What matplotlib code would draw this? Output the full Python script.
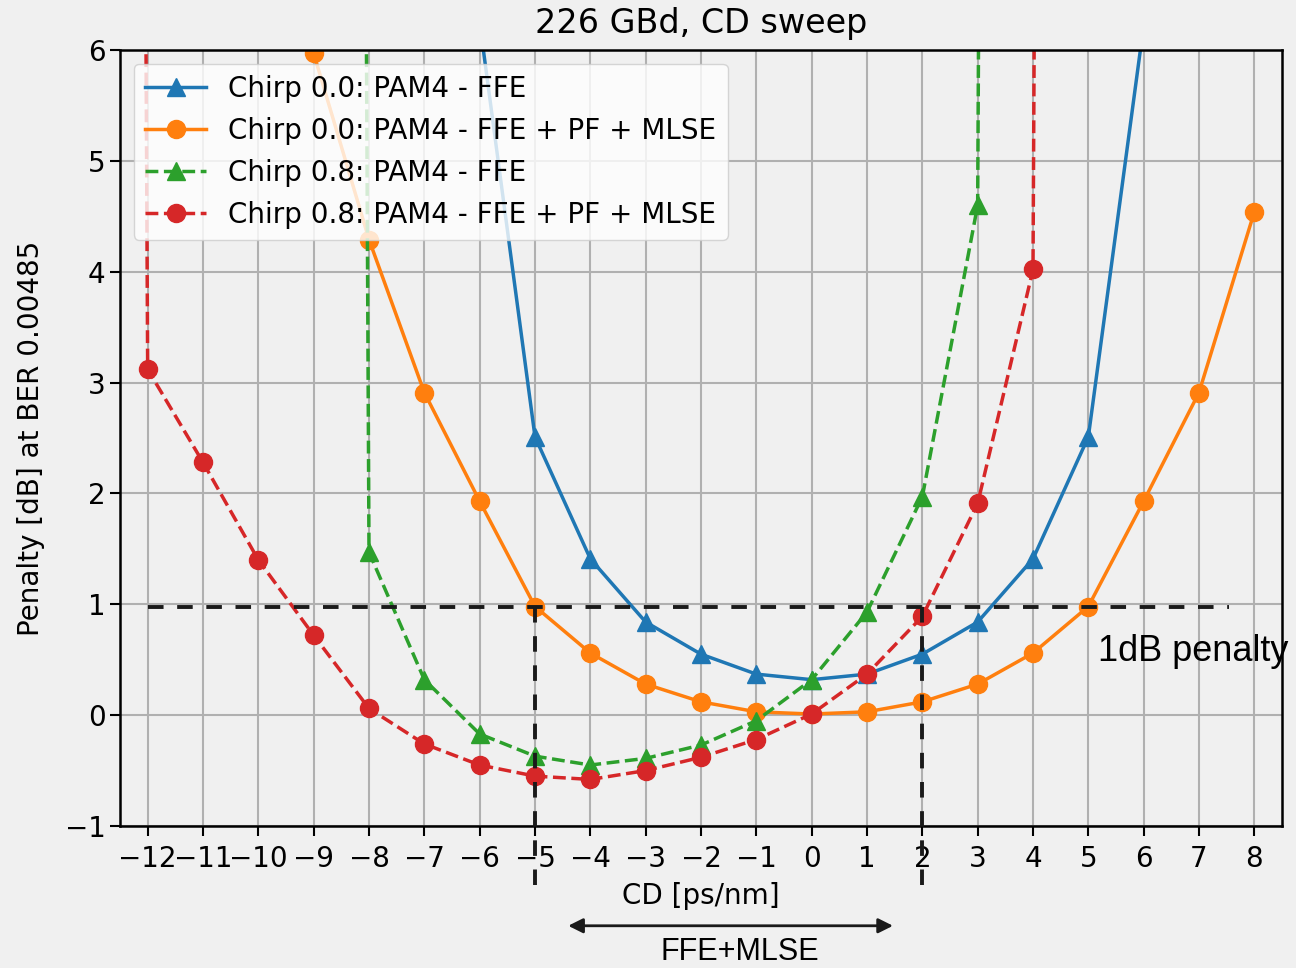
import numpy as np
import matplotlib
matplotlib.use('Agg')
import matplotlib.pyplot as plt

# CD sweep points [ps/nm]
cd_c0_ffe = [-6, -5, -4, -3, -2, -1, 0, 1, 2, 3, 4, 5, 6]
pen_c0_ffe = [6.25, 2.51, 1.41, 0.84, 0.55, 0.37, 0.32, 0.37, 0.55, 0.84, 1.41, 2.51, 6.22]

cd_c0_mlse = [-9, -8, -7, -6, -5, -4, -3, -2, -1, 0, 1, 2, 3, 4, 5, 6, 7, 8]
pen_c0_mlse = [5.97, 4.29, 2.91, 1.93, 0.98, 0.56, 0.28, 0.12, 0.03, 0.01, 0.03, 0.12, 0.28, 0.56,
               0.98, 1.93, 2.91, 4.54]

# points outside the measurable range are set to a large penalty
cd_c8_ffe = [-9, -8, -7, -6, -5, -4, -3, -2, -1, 0, 1, 2, 3, 4]
pen_c8_ffe = [100, 1.47, 0.32, -0.17, -0.37, -0.45, -0.39, -0.27, -0.05, 0.32, 0.93, 1.97, 4.60, 100]

cd_c8_mlse = [-13, -12, -11, -10, -9, -8, -7, -6, -5, -4, -3, -2, -1, 0, 1, 2, 3, 4, 5]
pen_c8_mlse = [100, 3.12, 2.28, 1.40, 0.72, 0.06, -0.26, -0.45, -0.55, -0.58, -0.50, -0.38, -0.22,
               0.01, 0.37, 0.89, 1.91, 4.02, 100]

limit_db = 0.98
range_lo, range_hi = -5, 2

fig = plt.figure(figsize=(12.96, 9.68), dpi=100, facecolor='#f0f0f0')
ax = fig.add_axes([120 / 1296, 142 / 968, 1162 / 1296, 776 / 968])
ax.set_facecolor('none')

fs = 20
lw = 2.5
ms = 13
ax.plot(cd_c0_ffe, pen_c0_ffe, '-^', color='#1f77b4', lw=lw, ms=ms, label='Chirp 0.0: PAM4 - FFE')
ax.plot(cd_c0_mlse, pen_c0_mlse, '-o', color='#ff7f0e', lw=lw, ms=ms,
        label='Chirp 0.0: PAM4 - FFE + PF + MLSE')
ax.plot(cd_c8_ffe, pen_c8_ffe, '--^', color='#2ca02c', lw=lw, ms=ms, label='Chirp 0.8: PAM4 - FFE')
ax.plot(cd_c8_mlse, pen_c8_mlse, '--o', color='#d62728', lw=lw, ms=ms,
        label='Chirp 0.8: PAM4 - FFE + PF + MLSE')

# 1 dB penalty marker lines
ax.plot([-12, 7.55], [limit_db, limit_db], '--', color='#1a1a1a', lw=2.8, dashes=(4, 3.5))
for xv in (range_lo, range_hi):
    ax.plot([xv, xv], [limit_db, -1.53], '--', color='#1a1a1a', lw=2.8, dashes=(4, 3.5),
            clip_on=False, zorder=5)

ax.text(5.18, 0.57, '1dB penalty', fontsize=26, family='Liberation Sans', va='center', ha='left')
ax.annotate('', xy=(-4.45, -1.9), xytext=(1.52, -1.9), annotation_clip=False,
            arrowprops=dict(arrowstyle='<|-|>', color='#1a1a1a', lw=2, mutation_scale=22))
ax.text(-1.3, -2.14, 'FFE+MLSE', fontsize=22, family='Liberation Sans', ha='center', va='center',
        transform=ax.transData)

ax.set_xlim(-12.5, 8.5)
ax.set_ylim(-1, 6)
ax.set_xticks(np.arange(-12, 9, 1))
ax.set_yticks(np.arange(-1, 7, 1))
ax.tick_params(labelsize=fs, width=1.5, length=7)
ax.tick_params(axis='x', pad=7)
ax.grid(True, color='#b0b0b0', lw=1.5)
for s in ax.spines.values():
    s.set_linewidth(1.8)

ax.set_xlabel('CD [ps/nm]', fontsize=fs, labelpad=6)
ax.set_ylabel('Penalty [dB] at BER 0.00485', fontsize=fs, labelpad=14)
ax.set_title('226 GBd, CD sweep', fontsize=24, pad=12)
ax.legend(loc='upper left', fontsize=fs, framealpha=0.8, borderaxespad=0.5, handlelength=2.2)

fig.savefig('out.png', dpi=100, facecolor=fig.get_facecolor())
